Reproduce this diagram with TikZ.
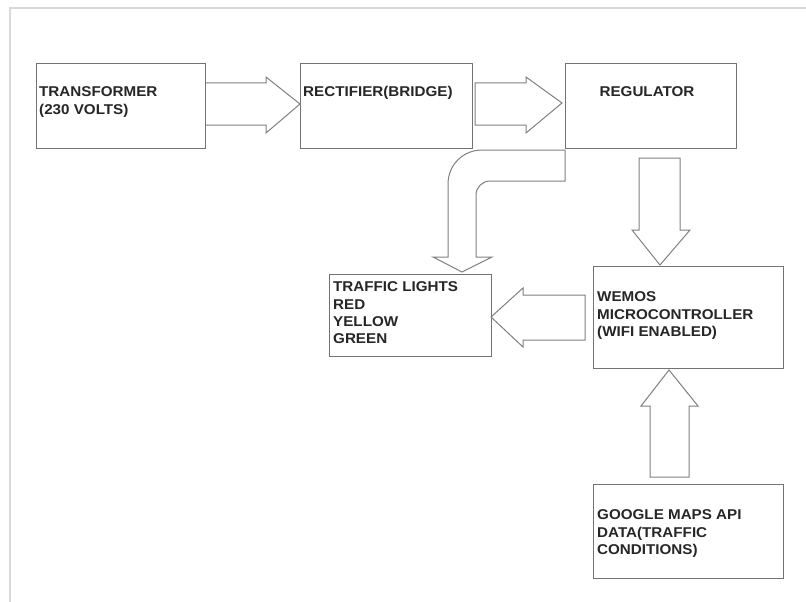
\documentclass[tikz,border=0pt]{standalone}
\usepackage{fontspec}
\setmainfont[FakeStretch=1.07]{Liberation Sans}
\begin{document}
\begin{tikzpicture}[x=1pt,y=-1pt,
  box/.style={draw=black!55,line width=1pt,inner sep=0pt,anchor=north west},
  blk/.style={draw=black!50,line width=1pt,line join=miter},
  lbl/.style={anchor=north west,inner sep=0pt,align=left,text=black!85,
    font=\fontsize{14.2pt}{17.4pt}\selectfont\bfseries},
  frame/.style={draw=black!15,line width=1.6pt}]
\useasboundingbox (0,0) rectangle (806,602);
\fill[white] (0,0) rectangle (806,602);
% faint outer frame
\coordinate (fa) at (806,8);
\coordinate (fb) at (10,8);
\coordinate (fc) at (10,602);
\draw[frame] (fa) -- (fb) -- (fc);
% boxes
\node[box,minimum width=169pt,minimum height=85pt] (tr) at (36,63) {};
\node[box,minimum width=172pt,minimum height=85pt] (rec) at (300,63) {};
\node[box,minimum width=171pt,minimum height=85pt] (reg) at (565,63) {};
\node[box,minimum width=162pt,minimum height=82pt] (tl) at (329,274) {};
\node[box,minimum width=190pt,minimum height=102pt] (wem) at (593,266) {};
\node[box,minimum width=190pt,minimum height=94pt] (goo) at (593,484) {};
% labels
\node[lbl] (trt) at (39,86.5) {TRANSFORMER\\(230 VOLTS)};
\node[lbl] (rect) at (303,86.5) {RECTIFIER(BRIDGE)};
\node[lbl,anchor=north] (regt) at (647,86.5) {REGULATOR};
\node[lbl] (tlt) at (333,281.5) {TRAFFIC LIGHTS\\RED\\YELLOW\\GREEN};
\node[lbl] (wemt) at (597,291.5) {WEMOS\\MICROCONTROLLER\\(WIFI ENABLED)};
\node[lbl] (goot) at (597,509.5) {GOOGLE MAPS API\\DATA(TRAFFIC\\CONDITIONS)};
% block arrows
\draw[blk] (205,83) -- (266,83) -- (266,77) -- (300,104) -- (266,133) -- (266,125) -- (205,125);
\draw[blk] (475,83) -- (526,83) -- (526,77) -- (562,103) -- (526,133) -- (526,125) -- (475,125) -- cycle;
\draw[blk] (639,158) -- (680,158) -- (680,230) -- (690,230) -- (660,265) -- (632,230) -- (639,230) -- cycle;
\draw[blk] (585,295) -- (523,295) -- (523,288) -- (491,317) -- (523,347) -- (523,340) -- (585,340) -- cycle;
\draw[blk] (650,477) -- (650,406) -- (641,406) -- (669,370) -- (698,406) -- (689,406) -- (689,477) -- cycle;
% curved block arrow from regulator to traffic lights
\draw[blk] (565,150) -- (482,150) .. controls (463,150) and (448,165) .. (448,184)
  -- (448,257) -- (433,257) -- (462,272) -- (492,257) -- (476,257) -- (476,195)
  .. controls (476,187.3) and (482.3,181) .. (490,181) -- (565,181) -- cycle;
\end{tikzpicture}
\end{document}
